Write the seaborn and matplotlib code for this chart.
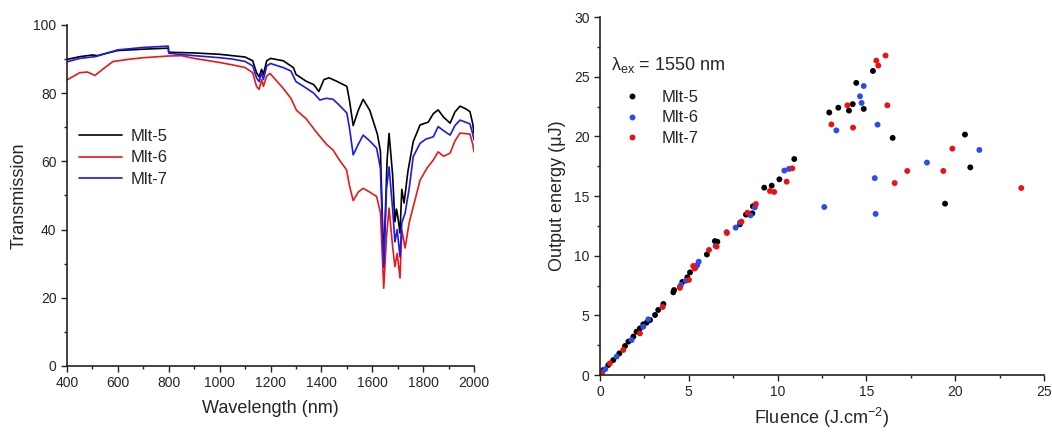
import pandas as pd
import matplotlib
matplotlib.use("Agg")
import matplotlib.pyplot as plt
from matplotlib.ticker import MultipleLocator
import seaborn as sns

# Transmission spectra (key points)
wl_mlt5 = [400, 450, 500, 520, 560, 600, 700, 798, 800, 900, 1000, 1050, 1100, 1130, 1145, 1155, 1165, 1172,
           1185, 1200, 1250, 1270, 1290, 1300, 1320, 1340, 1370, 1390, 1410, 1430, 1460, 1500, 1510, 1525,
           1545, 1564, 1590, 1620, 1632, 1645, 1658, 1666, 1680, 1689, 1695, 1700, 1709, 1716, 1725, 1740,
           1761, 1788, 1820, 1840, 1859, 1880, 1906, 1925, 1945, 1965, 1984, 1995, 2000]
tr_mlt5 = [89.9, 90.7, 91.2, 91.0, 91.8, 92.5, 92.9, 93.2, 92.0, 91.8, 91.4, 91.0, 90.6, 89.5, 86.0, 84.8, 87.0, 85.5,
           89.5, 90.2, 89.5, 88.5, 87.5, 85.5, 84.5, 83.5, 82.5, 80.5, 84.0, 84.5, 83.5, 82.0, 78.0, 70.5,
           75.0, 78.2, 75.0, 68.0, 63.0, 30.0, 60.0, 68.2, 56.0, 42.3, 46.0, 44.0, 39.0, 51.8, 47.8, 57.0,
           65.8, 70.7, 71.5, 74.0, 75.1, 73.0, 71.2, 74.5, 76.2, 75.5, 74.6, 71.0, 68.3]

wl_mlt6 = [400, 450, 480, 510, 540, 581, 650, 700, 800, 850, 900, 1000, 1050, 1100, 1130, 1145, 1155, 1165, 1172,
           1185, 1198, 1250, 1280, 1302, 1340, 1381, 1420, 1446, 1470, 1499, 1510, 1525, 1545, 1564, 1590,
           1617, 1632, 1645, 1656, 1666, 1680, 1689, 1698, 1709, 1716, 1729, 1745, 1761, 1788, 1815, 1840,
           1859, 1880, 1906, 1925, 1945, 1984, 1995, 2000]
tr_mlt6 = [83.9, 86.0, 86.2, 85.2, 87.0, 89.3, 90.0, 90.4, 90.9, 91.0, 90.2, 89.0, 88.3, 87.5, 86.0, 82.0, 81.1, 84.0, 82.0,
           85.0, 85.8, 81.4, 78.5, 75.0, 72.5, 68.5, 65.0, 63.3, 60.5, 57.5, 53.0, 48.5, 51.0, 52.1, 51.0,
           49.7, 45.0, 22.8, 38.0, 46.3, 35.0, 29.1, 33.0, 25.8, 39.9, 34.6, 42.0, 46.7, 54.5, 58.0, 60.4,
           62.8, 61.5, 62.4, 66.0, 68.3, 68.0, 65.0, 62.8]

wl_mlt7 = [400, 450, 510, 560, 600, 700, 798, 800, 900, 1000, 1050, 1100, 1130, 1145, 1155, 1165, 1172, 1185,
           1200, 1250, 1280, 1300, 1340, 1370, 1394, 1420, 1446, 1470, 1500, 1510, 1525, 1545, 1564, 1590,
           1617, 1632, 1645, 1656, 1666, 1680, 1689, 1698, 1709, 1716, 1729, 1745, 1761, 1788, 1810, 1840,
           1859, 1880, 1906, 1925, 1945, 1984, 1995, 2000]
tr_mlt7 = [89.2, 90.2, 90.7, 91.8, 92.7, 93.4, 93.8, 91.7, 91.0, 90.4, 90.0, 89.3, 88.0, 84.5, 83.4, 86.0, 84.0, 88.0,
           88.7, 87.5, 86.5, 83.4, 81.5, 80.0, 78.0, 78.5, 78.2, 76.5, 74.2, 70.0, 61.9, 65.0, 67.7, 66.0,
           63.9, 58.0, 29.0, 52.0, 58.4, 46.0, 36.4, 40.0, 32.0, 42.0, 44.8, 52.0, 61.4, 65.3, 66.5, 67.2,
           70.2, 69.0, 67.7, 70.5, 72.1, 71.0, 68.0, 66.3]

# Output energy vs fluence
fl_mlt5 = [0.05, 0.19, 0.47, 0.75, 1.09, 1.41, 1.6, 1.88, 2.06, 2.25, 2.44, 2.63, 2.82, 3.1, 3.28, 3.57, 4.13, 4.17,
           4.64, 4.92, 5.07, 6.02, 6.47, 6.61, 7.88, 8.22, 8.58, 8.61, 9.25, 9.67, 10.1, 10.94,
           12.91, 13.42, 14.02, 14.23, 14.43, 14.85, 15.37, 16.48, 19.43, 20.55, 20.85]
en_mlt5 = [0.08, 0.42, 0.84, 1.25, 1.81, 2.43, 2.8, 3.22, 3.63, 3.91, 4.25, 4.39, 4.61, 5.03, 5.45, 5.95, 6.93, 7.12,
           7.8, 8.19, 8.6, 10.1, 11.22, 11.17, 12.63, 13.44, 13.55, 14.14, 15.7, 15.87, 16.4, 18.1,
           22.0, 22.4, 22.16, 22.7, 24.48, 22.3, 25.48, 19.87, 14.36, 20.15, 17.4]

fl_mlt6 = [0.12, 0.3, 0.94, 1.78, 2.44, 2.72, 4.5, 4.56, 4.84, 5.39, 5.48, 5.56, 6.51, 7.13, 7.64, 7.88, 8.48, 8.72,
           10.38, 10.64, 12.63, 13.31, 14.64, 14.73, 14.85, 15.47, 15.52, 15.63, 18.41, 21.36]
en_mlt6 = [0.2, 0.5, 1.54, 2.93, 4.05, 4.67, 7.41, 7.55, 7.91, 9.03, 9.22, 9.5, 10.81, 11.98, 12.35, 12.77, 13.38, 14.05,
           17.13, 17.27, 14.08, 20.5, 23.36, 22.8, 24.22, 16.5, 13.5, 20.98, 17.8, 18.86]

fl_mlt7 = [0.09, 0.56, 1.31, 2.25, 3.53, 4.5, 5.01, 5.25, 5.33, 6.14, 6.57, 7.15, 7.97, 8.31, 8.78, 9.57, 9.81, 10.51,
           10.83, 13.03, 13.93, 14.25, 15.56, 15.67, 16.08, 16.18, 16.59, 17.3, 19.33, 19.84, 23.72]
en_mlt7 = [0.14, 0.98, 2.1, 3.49, 5.7, 7.3, 7.97, 9.14, 8.92, 10.48, 10.76, 11.9, 12.85, 13.6, 14.33, 15.42, 15.34, 16.2,
           17.32, 21.0, 22.6, 20.73, 26.35, 25.93, 26.77, 22.6, 16.09, 17.1, 17.1, 18.97, 15.67]

samples = ["Mlt-5", "Mlt-6", "Mlt-7"]
line_colors = ["#000000", "#e8191a", "#1a1aeb"]
dot_colors = ["#000000", "#2a4cf0", "#f01010"]

spec = pd.concat([
    pd.DataFrame({"wl": wl_mlt5, "T": tr_mlt5, "sample": "Mlt-5"}),
    pd.DataFrame({"wl": wl_mlt6, "T": tr_mlt6, "sample": "Mlt-6"}),
    pd.DataFrame({"wl": wl_mlt7, "T": tr_mlt7, "sample": "Mlt-7"}),
], ignore_index=True)

oe = pd.concat([
    pd.DataFrame({"F": fl_mlt5, "E": en_mlt5, "sample": "Mlt-5"}),
    pd.DataFrame({"F": fl_mlt6, "E": en_mlt6, "sample": "Mlt-6"}),
    pd.DataFrame({"F": fl_mlt7, "E": en_mlt7, "sample": "Mlt-7"}),
], ignore_index=True)

sns.set_style("ticks")
plt.rcParams["font.family"] = ["Liberation Sans", "DejaVu Sans"]
plt.rcParams["mathtext.default"] = "regular"

fig = plt.figure(figsize=(10.52, 4.32), dpi=100)
ax1 = fig.add_axes([0.0637, 0.1528, 0.3869, 0.7894])
ax2 = fig.add_axes([0.5703, 0.1319, 0.4221, 0.8287])

# Left: transmission
sns.lineplot(data=spec, x="wl", y="T", hue="sample", hue_order=samples,
             palette=line_colors, estimator=None, sort=False, linewidth=1.2, ax=ax1)
ax1.set_xlim(400, 2000)
ax1.set_ylim(0, 100)
ax1.xaxis.set_major_locator(MultipleLocator(200))
ax1.xaxis.set_minor_locator(MultipleLocator(100))
ax1.yaxis.set_major_locator(MultipleLocator(20))
ax1.yaxis.set_minor_locator(MultipleLocator(10))
ax1.set_xlabel("Wavelength (nm)", fontsize=13, labelpad=7)
ax1.set_ylabel("Transmission", fontsize=13)
ax1.legend(loc="center left", bbox_to_anchor=(0.0, 0.61), frameon=False, fontsize=12,
           handlelength=2.6, labelspacing=0.4, borderaxespad=0.3, handletextpad=0.5)

# Right: output energy
sns.scatterplot(data=oe, x="F", y="E", hue="sample", hue_order=samples,
                palette=dot_colors, s=18, linewidth=0, ax=ax2)
ax2.set_xlim(0, 25)
ax2.set_ylim(0, 30)
ax2.xaxis.set_major_locator(MultipleLocator(5))
ax2.xaxis.set_minor_locator(MultipleLocator(2.5))
ax2.yaxis.set_major_locator(MultipleLocator(5))
ax2.yaxis.set_minor_locator(MultipleLocator(2.5))
ax2.set_xlabel("Fluence (J.cm$^{-2}$)", fontsize=13, labelpad=5)
ax2.set_ylabel("Output energy (\u03bcJ)", fontsize=13, labelpad=6)
ax2.text(0.025, 0.866, "\u03bb$_{ex}$ = 1550 nm", transform=ax2.transAxes, fontsize=13, va="center")
ax2.legend(loc="center left", bbox_to_anchor=(0.0, 0.718), frameon=False, fontsize=12,
           markerscale=1.0, labelspacing=0.35, borderaxespad=0.5, handletextpad=0.8)

for ax in (ax1, ax2):
    sns.despine(ax=ax)
    ax.tick_params(which="major", direction="out", length=4, width=1, labelsize=10, color="#222222")
    ax.tick_params(which="minor", direction="out", length=2.5, width=1, color="#222222")
    for sp in ("left", "bottom"):
        ax.spines[sp].set_linewidth(1.2)
        ax.spines[sp].set_color("#222222")

fig.savefig("out.png", dpi=100)
plt.close()
